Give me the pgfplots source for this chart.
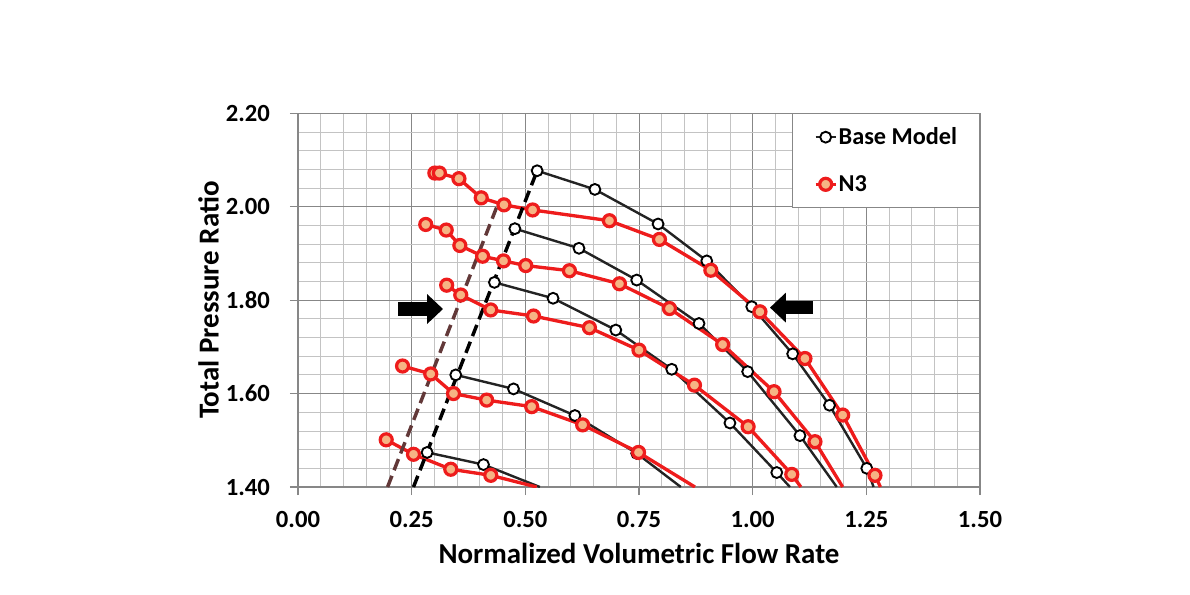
\documentclass[border=0pt]{standalone}
\usepackage{fontspec}
\setmainfont{Carlito}
\usepackage{pgfplots}
\pgfplotsset{compat=1.18}
\usetikzlibrary{arrows.meta}
\definecolor{gridmaj}{RGB}{135,135,135}
\definecolor{gridmin}{RGB}{195,195,195}
\definecolor{blackline}{RGB}{35,35,35}
\definecolor{redline}{RGB}{238,28,28}
\definecolor{peach}{RGB}{246,180,132}
\definecolor{brownd}{RGB}{98,56,56}
\begin{document}
\begin{tikzpicture}
\useasboundingbox (-223.5pt,-80.25pt) rectangle (669pt,365.25pt);
\begin{axis}[
  scale only axis, width=511.5pt, height=280.3pt,
  xmin=0, xmax=1.5, ymin=1.4, ymax=2.2,
  xtick={0,0.25,0.5,0.75,1,1.25,1.5},
  ytick={1.4,1.6,1.8,2.0,2.2},
  minor x tick num=4, minor y tick num=4,
  grid=both,
  major grid style={draw=gridmaj, line width=0.7pt},
  minor grid style={draw=gridmin, line width=0.6pt},
  axis line style={draw=gridmaj, line width=0.8pt},
  tick align=outside, major tick length=6pt, minor tick length=0pt,
  every tick/.style={draw=gridmaj, line width=0.8pt},
  xtick pos=bottom, ytick pos=left,
  ticklabel style={font=\bfseries\fontsize{18.5}{21}\selectfont},
  xticklabel style={yshift=-9pt},
  yticklabel style={xshift=-11.5pt},
  /pgf/number format/.cd, fixed, fixed zerofill, precision=2, assume math mode=true, /pgfplots/.cd,
  xlabel={Normalized Volumetric Flow Rate},
  ylabel={Total Pressure Ratio},
  every axis x label/.style={at={(axis description cs:0.5,0)}, anchor=center, yshift=-49.5pt, font=\bfseries\fontsize{21.7}{25}\selectfont},
  every axis y label/.style={at={(axis description cs:0,0.5)}, anchor=center, xshift=-67pt, rotate=90, font=\bfseries\fontsize{21.7}{25}\selectfont},
  legend style={at={(rel axis cs:0.7248,1)}, anchor=north west, draw=gridmaj, line width=0.6pt, fill=white,
    inner xsep=16pt, inner ysep=9.5pt, row sep=19.5pt, column sep=0pt,
    font=\bfseries\fontsize{18.2}{21}\selectfont, nodes={inner xsep=1pt, inner ysep=1pt}},
  legend cell align=left,
  legend image code/.code={\draw[mark repeat=2,mark phase=2,#1] plot coordinates {(0pt,0pt) (7.5pt,0pt) (15pt,0pt)};},
  base/.style={color=blackline, line width=1.8pt, mark=*, mark size=4.1pt, mark options={fill=white, draw=black, line width=1.4pt}},
  n3/.style={color=redline, line width=2.5pt, mark=*, mark size=4.5pt, mark options={fill=peach, draw=redline, line width=2.4pt}},
]
% Base Model
\addplot[base] coordinates {(0.526,2.077) (0.653,2.037) (0.792,1.963) (0.899,1.884) (0.998,1.786) (1.088,1.685) (1.169,1.575) (1.251,1.440)};
\addplot[base, no markers, forget plot] coordinates {(1.251,1.440) (1.266,1.40)};
\addplot[base, forget plot] coordinates {(0.477,1.953) (0.618,1.911) (0.745,1.843) (0.882,1.750) (0.989,1.647) (1.104,1.510)};
\addplot[base, no markers, forget plot] coordinates {(1.104,1.510) (1.185,1.40)};
\addplot[base, forget plot] coordinates {(0.432,1.838) (0.561,1.804) (0.699,1.736) (0.822,1.652) (0.950,1.537) (1.053,1.431)};
\addplot[base, no markers, forget plot] coordinates {(1.053,1.431) (1.082,1.40)};
\addplot[base, forget plot] coordinates {(0.347,1.640) (0.474,1.610) (0.609,1.553) (0.745,1.472)};
\addplot[base, no markers, forget plot] coordinates {(0.745,1.472) (0.842,1.40)};
\addplot[base, forget plot] coordinates {(0.284,1.474) (0.408,1.448)};
\addplot[base, no markers, forget plot] coordinates {(0.408,1.448) (0.532,1.40)};
% N3
\addplot[n3] coordinates {(0.301,2.072) (0.311,2.072) (0.354,2.060) (0.403,2.019) (0.453,2.004) (0.516,1.993) (0.685,1.970) (0.795,1.930) (0.908,1.864) (1.016,1.775) (1.115,1.675) (1.198,1.554) (1.269,1.425)};
\addplot[n3, no markers, forget plot] coordinates {(1.269,1.425) (1.281,1.40)};
\addplot[n3, forget plot] coordinates {(0.281,1.962) (0.326,1.950) (0.356,1.917) (0.406,1.894) (0.452,1.884) (0.501,1.874) (0.597,1.863) (0.707,1.835) (0.817,1.782) (0.934,1.705) (1.047,1.604) (1.137,1.497)};
\addplot[n3, no markers, forget plot] coordinates {(1.137,1.497) (1.198,1.40)};
\addplot[n3, forget plot] coordinates {(0.327,1.832) (0.358,1.811) (0.424,1.779) (0.518,1.766) (0.641,1.741) (0.750,1.693) (0.872,1.618) (0.990,1.529) (1.086,1.427)};
\addplot[n3, no markers, forget plot] coordinates {(1.086,1.427) (1.106,1.40)};
\addplot[n3, forget plot] coordinates {(0.230,1.659) (0.292,1.642) (0.342,1.600) (0.415,1.586) (0.514,1.572) (0.626,1.533) (0.749,1.474)};
\addplot[n3, no markers, forget plot] coordinates {(0.749,1.474) (0.873,1.40)};
\addplot[n3, forget plot] coordinates {(0.194,1.501) (0.254,1.470) (0.336,1.438) (0.424,1.425)};
\addplot[n3, no markers, forget plot] coordinates {(0.424,1.425) (0.525,1.40)};
% dashed lines
\addplot[brownd, line width=2.6pt, dash pattern=on 9pt off 4.5pt, forget plot] coordinates {(0.197,1.40) (0.441,2.009)};
\addplot[black, line width=2.6pt, dash pattern=on 9pt off 4.5pt, forget plot] coordinates {(0.254,1.40) (0.526,2.077)};
% arrows
\draw[black, line width=10pt, -{Triangle[length=12pt,width=21.75pt]}] (axis cs:0.220,1.781) -- (axis cs:0.319,1.781);
\draw[black, line width=10pt, -{Triangle[length=12pt,width=21.75pt]}] (axis cs:1.133,1.784) -- (axis cs:1.038,1.784);
\legend{Base Model, N3}
\end{axis}
\end{tikzpicture}
\end{document}
